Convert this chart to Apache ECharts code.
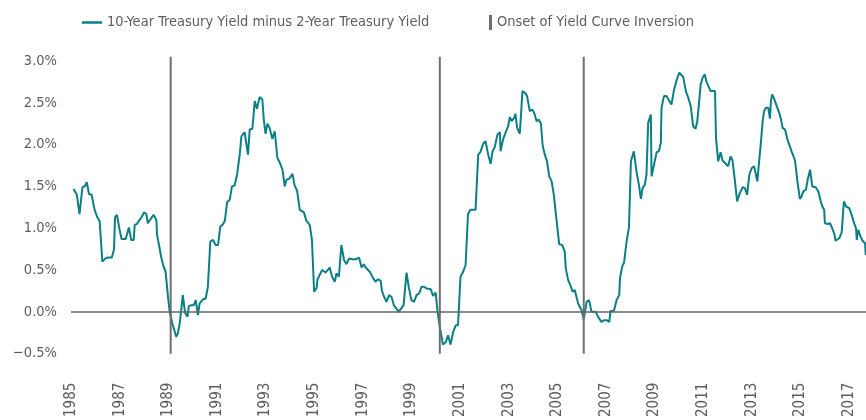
<!DOCTYPE html>
<html>
<head>
    <meta charset="UTF-8">
    <title>10-Year minus 2-Year Treasury Yield</title>
    <script src="https://cdn.jsdelivr.net/npm/echarts@6/dist/echarts.min.js"></script>
    <style>
        html, body {
            margin: 0;
            padding: 0;
            background: #ffffff;
        }
        #main {
            width: 866px;
            height: 420px;
        }
    </style>
</head>
<body>
    <div id="main"></div>
    <script>
        // [decimal year, spread in %]
        var spreadPoints = [
            [1985.11,1.47],[1985.24,1.40],[1985.35,1.17],[1985.47,1.49],[1985.56,1.50],[1985.65,1.55],[1985.74,1.41],[1985.85,1.40],[1985.97,1.22],[1986.07,1.14],
            [1986.18,1.08],[1986.29,0.60],[1986.42,0.64],[1986.52,0.65],[1986.68,0.65],[1986.77,0.75],[1986.81,1.13],[1986.89,1.16],[1987.00,0.98],[1987.08,0.87],
            [1987.25,0.87],[1987.38,1.01],[1987.48,0.86],[1987.58,0.86],[1987.62,1.04],[1987.71,1.05],[1987.82,1.10],[1987.92,1.14],[1988.00,1.19],[1988.10,1.17],
            [1988.16,1.06],[1988.23,1.05],[1988.30,1.12],[1988.40,1.16],[1988.51,1.10],[1988.54,0.92],[1988.62,0.80],[1988.72,0.64],[1988.81,0.54],[1988.89,0.48],
            [1988.99,0.18],[1989.06,0.00],[1989.17,-0.14],[1989.33,-0.30],[1989.40,-0.25],[1989.47,-0.14],[1989.54,-0.13],[1989.60,0.20],[1989.69,-0.01],[1989.79,-0.06],
            [1989.85,0.07],[1989.95,0.08],[1990.05,0.08],[1990.13,0.14],[1990.22,-0.04],[1990.29,0.10],[1990.43,0.15],[1990.54,0.16],[1990.63,0.30],[1990.73,0.84],
            [1990.84,0.86],[1990.95,0.80],[1991.05,0.80],[1991.14,1.02],[1991.23,1.04],[1991.33,1.09],[1991.42,1.31],[1991.53,1.34],[1991.62,1.50],[1991.73,1.51],
            [1991.83,1.64],[1991.94,1.88],[1992.01,2.10],[1992.14,2.15],[1992.28,1.88],[1992.35,2.18],[1992.46,2.19],[1992.56,2.52],[1992.65,2.43],[1992.76,2.57],
            [1992.87,2.54],[1992.93,2.30],[1993.00,2.13],[1993.08,2.25],[1993.17,2.20],[1993.28,2.07],[1993.38,2.16],[1993.49,1.84],[1993.58,1.79],[1993.70,1.70],
            [1993.79,1.50],[1993.86,1.58],[1993.97,1.59],[1994.11,1.65],[1994.20,1.51],[1994.30,1.45],[1994.41,1.22],[1994.58,1.19],[1994.68,1.09],[1994.82,1.04],
            [1994.91,0.86],[1995.00,0.24],[1995.10,0.28],[1995.14,0.39],[1995.33,0.50],[1995.47,0.47],[1995.55,0.48],[1995.64,0.53],[1995.74,0.42],[1995.85,0.36],
            [1995.92,0.46],[1996.02,0.42],[1996.12,0.80],[1996.23,0.62],[1996.33,0.57],[1996.44,0.64],[1996.56,0.63],[1996.74,0.63],[1996.85,0.65],[1996.95,0.53],
            [1997.04,0.57],[1997.12,0.53],[1997.29,0.48],[1997.38,0.43],[1997.52,0.36],[1997.63,0.39],[1997.74,0.37],[1997.79,0.25],[1997.88,0.18],[1997.98,0.12],
            [1998.08,0.20],[1998.18,0.18],[1998.28,0.08],[1998.36,0.06],[1998.48,0.00],[1998.56,0.02],[1998.68,0.08],[1998.80,0.47],[1998.89,0.30],[1999.00,0.14],
            [1999.11,0.12],[1999.21,0.20],[1999.32,0.22],[1999.42,0.30],[1999.52,0.30],[1999.62,0.28],[1999.80,0.27],[1999.89,0.19],[2000.00,0.23],[2000.07,0.02],
            [2000.17,-0.18],[2000.30,-0.39],[2000.42,-0.36],[2000.51,-0.28],[2000.61,-0.39],[2000.72,-0.24],[2000.83,-0.16],[2000.92,-0.16],[2001.02,0.42],[2001.13,0.48],
            [2001.23,0.56],[2001.33,1.17],[2001.43,1.22],[2001.64,1.22],[2001.75,1.88],[2001.84,1.91],[2001.95,2.01],[2002.05,2.04],[2002.16,1.88],[2002.26,1.77],
            [2002.34,1.92],[2002.43,1.97],[2002.54,2.12],[2002.64,2.15],[2002.67,1.92],[2002.77,2.06],[2002.87,2.14],[2002.98,2.22],[2003.05,2.33],[2003.12,2.28],
            [2003.23,2.32],[2003.28,2.37],[2003.35,2.20],[2003.46,2.13],[2003.57,2.64],[2003.67,2.62],[2003.76,2.58],[2003.87,2.40],[2003.97,2.42],[2004.05,2.38],
            [2004.15,2.28],[2004.24,2.30],[2004.33,2.25],[2004.40,1.99],[2004.49,1.88],[2004.58,1.80],[2004.67,1.62],[2004.77,1.56],[2004.86,1.40],[2004.97,1.10],
            [2005.08,0.81],[2005.20,0.80],[2005.31,0.72],[2005.35,0.52],[2005.45,0.38],[2005.55,0.31],[2005.63,0.24],[2005.72,0.26],[2005.79,0.18],[2005.86,0.10],
            [2006.00,0.02],[2006.09,-0.09],[2006.21,0.12],[2006.31,0.14],[2006.41,0.00],[2006.59,0.00],[2006.68,-0.06],[2006.82,-0.12],[2006.92,-0.10],[2007.03,-0.10],
            [2007.14,-0.12],[2007.19,0.01],[2007.33,0.01],[2007.44,0.14],[2007.55,0.20],[2007.58,0.40],[2007.67,0.54],[2007.75,0.59],[2007.85,0.84],[2007.95,1.01],
            [2007.99,1.40],[2008.03,1.80],[2008.15,1.92],[2008.26,1.68],[2008.37,1.50],[2008.44,1.35],[2008.51,1.48],[2008.60,1.52],[2008.67,1.64],[2008.74,2.26],
            [2008.85,2.36],[2008.88,1.62],[2008.98,1.76],[2009.09,1.91],[2009.18,1.92],[2009.26,2.02],[2009.29,2.44],[2009.39,2.58],[2009.50,2.58],[2009.61,2.52],
            [2009.70,2.48],[2009.77,2.48],[2009.80,2.65],[2009.91,2.77],[2010.02,2.86],[2010.09,2.87],[2010.18,2.81],[2010.29,2.64],[2010.39,2.56],[2010.49,2.46],
            [2010.59,2.22],[2010.69,2.19],[2010.76,2.28],[2010.84,2.52],[2010.90,2.72],[2010.98,2.80],[2011.07,2.84],[2011.14,2.75],[2011.21,2.74],[2011.31,2.64],
            [2011.49,2.64],[2011.53,2.08],[2011.62,1.80],[2011.72,1.91],[2011.80,1.81],[2011.90,1.78],[2012.03,1.74],[2012.13,1.86],[2012.21,1.81],[2012.31,1.56],
            [2012.40,1.32],[2012.51,1.42],[2012.63,1.49],[2012.72,1.48],[2012.81,1.40],[2012.90,1.64],[2013.00,1.72],[2013.10,1.74],[2013.17,1.72],[2013.23,1.56],
            [2013.31,1.82],[2013.37,2.00],[2013.45,2.28],[2013.51,2.40],[2013.58,2.44],[2013.68,2.44],[2013.75,2.31],[2013.79,2.52],[2013.84,2.60],[2013.93,2.54],
            [2014.03,2.46],[2014.13,2.38],[2014.19,2.32],[2014.27,2.20],[2014.37,2.18],[2014.48,2.05],[2014.57,1.98],[2014.64,1.92],[2014.78,1.81],[2014.87,1.58],
            [2014.98,1.35],[2015.05,1.38],[2015.12,1.44],[2015.23,1.46],[2015.30,1.58],[2015.40,1.70],[2015.47,1.69],[2015.49,1.50],[2015.63,1.49],[2015.74,1.44],
            [2015.84,1.32],[2015.92,1.25],[2015.98,1.22],[2016.01,1.06],[2016.12,1.05],[2016.22,1.06],[2016.31,1.00],[2016.40,0.93],[2016.45,0.85],[2016.52,0.83],
            [2016.60,0.88],[2016.70,0.95],[2016.79,1.32],[2016.88,1.26],[2017.01,1.24],[2017.11,1.16],[2017.21,1.06],[2017.29,1.00],[2017.32,0.86],[2017.38,0.98],
            [2017.48,0.90],[2017.56,0.85],[2017.66,0.82],[2017.69,0.68]
        ];

        // onset of each yield curve inversion (decimal year)
        var inversionYears = [1989.10, 2000.17, 2006.09];
        var inversionRange = [-0.5, 3.05];

        var yTicks = { min: -0.5, max: 3.0, step: 0.5 };
        var xTicks = { min: 1985, max: 2017.7, step: 1 };

        var spreadName = '10-Year Treasury Yield minus 2-Year Treasury Yield';
        var inversionName = 'Onset of Yield Curve Inversion';

        var fontFamily = "'Liberation Sans Narrow', 'DejaVu Sans Condensed', sans-serif";
        var textColor = '#5e5e5e';

        var inversionData = [];
        inversionYears.forEach(function (yr) {
            inversionData.push([yr, inversionRange[0]]);
            inversionData.push([yr, inversionRange[1]]);
            inversionData.push([yr, '-']);
        });

        var myChart = echarts.init(document.getElementById('main'));

        var option = {
            animation: false,
            backgroundColor: '#ffffff',
            textStyle: { fontFamily: fontFamily },
            grid: { left: 71, right: 0, top: 61, bottom: 66 },
            legend: [
                {
                    left: 77,
                    top: 10,
                    icon: 'rect',
                    itemWidth: 20,
                    itemHeight: 2.5,
                    selectedMode: false,
                    data: [spreadName],
                    textStyle: { color: textColor, fontSize: 14.5, fontFamily: fontFamily }
                },
                {
                    left: 484,
                    top: 10,
                    icon: 'rect',
                    itemWidth: 3,
                    itemHeight: 15,
                    selectedMode: false,
                    data: [inversionName],
                    textStyle: { color: textColor, fontSize: 14.5, fontFamily: fontFamily }
                }
            ],
            xAxis: {
                type: 'value',
                min: xTicks.min,
                max: xTicks.max,
                interval: xTicks.step,
                axisLine: { show: false },
                axisTick: { show: false },
                splitLine: { show: false },
                axisLabel: {
                    rotate: 90,
                    margin: 29,
                    color: textColor,
                    fontSize: 15,
                    fontFamily: fontFamily,
                    formatter: function (v) {
                        var r = Math.round(v);
                        if (Math.abs(v - r) > 1e-6) return '';
                        return (r % 2 === 1) ? String(r) : '';
                    }
                }
            },
            yAxis: {
                type: 'value',
                min: yTicks.min,
                max: yTicks.max,
                interval: yTicks.step,
                axisLine: { show: false },
                axisTick: { show: false },
                splitLine: { show: false },
                axisLabel: {
                    margin: 14,
                    color: textColor,
                    fontSize: 14.5,
                    fontFamily: fontFamily,
                    formatter: function (v) {
                        var s = Math.abs(v).toFixed(1) + '%';
                        return v < 0 ? '\u2212' + s : s;
                    }
                }
            },
            series: [
                {
                    name: spreadName,
                    type: 'line',
                    data: spreadPoints,
                    showSymbol: false,
                    color: '#0b7f86',
                    lineStyle: { color: '#0b7f86', width: 2 },
                    markLine: {
                        silent: true,
                        symbol: 'none',
                        label: { show: false },
                        lineStyle: { color: '#666666', width: 1.5, type: 'solid' },
                        data: [{ yAxis: 0 }]
                    }
                },
                {
                    name: inversionName,
                    type: 'line',
                    data: inversionData,
                    clip: false,
                    showSymbol: false,
                    connectNulls: false,
                    color: '#6e6e6e',
                    lineStyle: { color: '#6e6e6e', width: 2 }
                }
            ]
        };

        option && myChart.setOption(option);
    </script>
</body>
</html>
